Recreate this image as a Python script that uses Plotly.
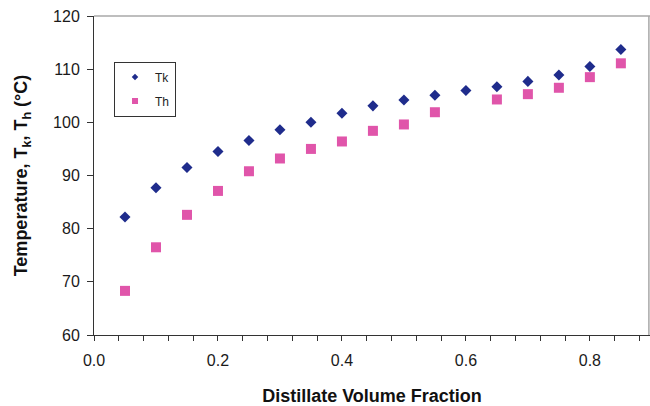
import plotly.graph_objects as go

x_tk = [0.05, 0.10, 0.15, 0.20, 0.25, 0.30, 0.35, 0.40, 0.45, 0.50, 0.55, 0.60, 0.65, 0.70, 0.75, 0.80, 0.85]
tk = [82.2, 87.7, 91.5, 94.5, 96.6, 98.6, 100.0, 101.7, 103.1, 104.2, 105.1, 106.0, 106.7, 107.7, 108.9, 110.5, 113.7]

x_th = [0.05, 0.10, 0.15, 0.20, 0.25, 0.30, 0.35, 0.40, 0.45, 0.50, 0.55, 0.65, 0.70, 0.75, 0.80, 0.85]
th = [68.3, 76.5, 82.6, 87.1, 90.8, 93.2, 95.0, 96.4, 98.4, 99.6, 101.9, 104.3, 105.3, 106.5, 108.5, 111.1]

x_ticks = [0.0, 0.2, 0.4, 0.6, 0.8]
x_tick_labels = ["0.0", "0.2", "0.4", "0.6", "0.8"]
y_ticks = [60, 70, 80, 90, 100, 110, 120]

FONT = "Liberation Sans, Arial, sans-serif"
TK_COLOR = "#1F2C8C"
TH_COLOR = "#E055AA"

fig = go.Figure()
fig.add_trace(go.Scatter(
    x=x_tk, y=tk, mode="markers", name="Tk", showlegend=False,
    marker=dict(symbol="diamond", size=8.5, color=TK_COLOR),
))
fig.add_trace(go.Scatter(
    x=x_th, y=th, mode="markers", name="Th", showlegend=False,
    marker=dict(symbol="square", size=10, color=TH_COLOR),
))
# legend entries (small symbols as in the reference legend)
fig.add_trace(go.Scatter(
    x=[None], y=[None], mode="markers", name="Tk", legendgroup="a",
    marker=dict(symbol="diamond", size=5, color=TK_COLOR),
))
fig.add_trace(go.Scatter(
    x=[None], y=[None], mode="markers", name="Th", legendgroup="b",
    marker=dict(symbol="square", size=6, color=TH_COLOR),
))

fig.update_layout(
    width=650, height=406,
    margin=dict(l=94, r=0, t=16, b=71),
    paper_bgcolor="white", plot_bgcolor="white",
    font=dict(family=FONT, color="#1a1a1a"),
    showlegend=True,
    legend=dict(
        x=0.036, y=0.857, xanchor="left", yanchor="top",
        bordercolor="#333333", borderwidth=1, bgcolor="white",
        font=dict(size=12, family=FONT, color="#222222"),
        itemwidth=30, tracegroupgap=5, traceorder="grouped",
    ),
    xaxis=dict(
        range=[0, 0.897], tickvals=x_ticks, ticktext=x_tick_labels,
        showgrid=False, zeroline=False,
        showline=True, linecolor="#333333", linewidth=1,
        ticks="outside", ticklen=5, tickcolor="#333333",
        minor=dict(dtick=0.04, tick0=0, ticks="outside", ticklen=5, tickcolor="#333333"),
        tickfont=dict(size=16, family=FONT, color="#1a1a1a"),
        ticklabelstandoff=6,
        title=dict(text="<b>Distillate Volume Fraction</b>", font=dict(size=18, family=FONT, color="#111111"), standoff=22),
    ),
    yaxis=dict(
        range=[60, 120], tickvals=y_ticks,
        showgrid=False, zeroline=False,
        showline=True, linecolor="#333333", linewidth=1,
        ticks="outside", ticklen=6, tickcolor="#333333",
        tickfont=dict(size=16, family=FONT, color="#1a1a1a"),
        ticklabelstandoff=4,
        title=dict(text="<b>Temperature, T<sub>k</sub>, T<sub>h</sub> (°C)</b>", font=dict(size=18, family=FONT, color="#111111"), standoff=20),
    ),
    shapes=[
        dict(type="line", xref="paper", yref="paper", x0=0, x1=1, y0=1, y1=1,
             line=dict(color="#A8A8A8", width=1.5)),
        dict(type="line", xref="paper", yref="paper", x0=0.998, x1=0.998, y0=0, y1=1,
             line=dict(color="#A8A8A8", width=1.5)),
    ],
)

fig.write_html("out.html")
